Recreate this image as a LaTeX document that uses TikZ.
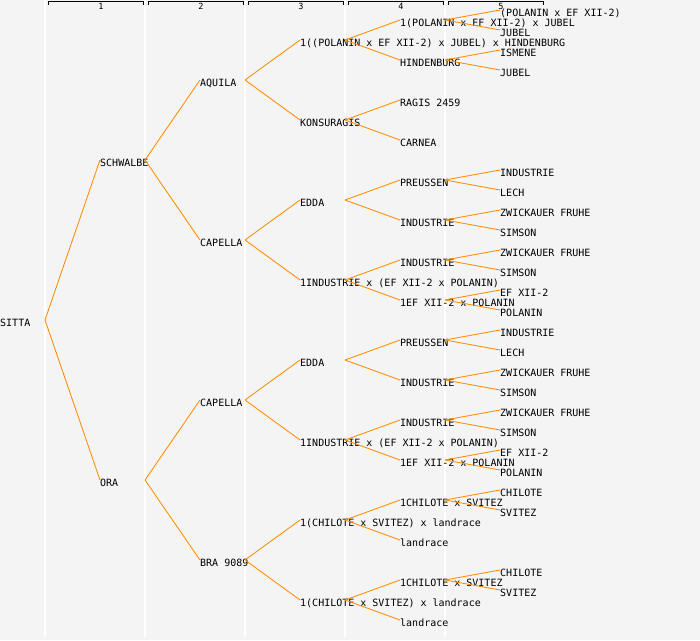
\documentclass[tikz,border=0pt]{standalone}
\usepackage{fontspec}
\newfontfamily\monofam{DejaVu Sans Mono}
\definecolor{bgc}{HTML}{F4F4F4}
\definecolor{edgec}{HTML}{FF8C00}
\newcommand\tn[4]{%
  \coordinate (#1) at ({100*#2},#3);
  \coordinate (#1o) at ({100*#2+45},#3);
  \node[lbl] (#1t) at ({100*#2},{#3+6}) {#4};}
\newcommand\ed[2]{\draw[edg] (#1o) -- (#2);}
\begin{document}
\begin{tikzpicture}[x=1pt,y=-1pt,
  lbl/.style={anchor=base west,inner sep=0pt,font=\monofam\fontsize{10}{10}\selectfont},
  hdr/.style={anchor=base,inner sep=0pt,font=\monofam\fontsize{8.5}{8.5}\selectfont},
  edg/.style={draw=edgec,line width=0.85pt},
  colline/.style={draw=white,line width=1.5pt},
  brk/.style={draw=black,line width=1pt}]
\fill[bgc] (0,0) rectangle (700,640);
\useasboundingbox (0,0) rectangle (700,640);
% column lines
\foreach \k in {0,...,4} {\draw[colline] ({100*\k+45},0) -- ({100*\k+45},637);}
% header
\foreach \k in {1,...,5} {
  \draw[brk] ({100*\k-52},5) -- ({100*\k-52},1.5) -- ({100*\k+43},1.5) -- ({100*\k+43},5);
  \node[hdr] (h\k) at ({100*\k+1},9.5) {\k};
}
% nodes
\tn{s}{0}{320}{SITTA}
\tn{a1}{1}{160}{SCHWALBE}
\tn{a2}{1}{480}{ORA}
\tn{b1}{2}{80}{AQUILA}
\tn{b2}{2}{240}{CAPELLA}
\tn{b3}{2}{400}{CAPELLA}
\tn{b4}{2}{560}{BRA 9089}
\tn{c1}{3}{40}{1((POLANIN x EF XII-2) x JUBEL) x HINDENBURG}
\tn{c2}{3}{120}{KONSURAGIS}
\tn{c3}{3}{200}{EDDA}
\tn{c4}{3}{280}{1INDUSTRIE x (EF XII-2 x POLANIN)}
\tn{c5}{3}{360}{EDDA}
\tn{c6}{3}{440}{1INDUSTRIE x (EF XII-2 x POLANIN)}
\tn{c7}{3}{520}{1(CHILOTE x SVITEZ) x landrace}
\tn{c8}{3}{600}{1(CHILOTE x SVITEZ) x landrace}
\tn{d1}{4}{20}{1(POLANIN x EF XII-2) x JUBEL}
\tn{d2}{4}{60}{HINDENBURG}
\tn{d3}{4}{100}{RAGIS 2459}
\tn{d4}{4}{140}{CARNEA}
\tn{d5}{4}{180}{PREUSSEN}
\tn{d6}{4}{220}{INDUSTRIE}
\tn{d7}{4}{260}{INDUSTRIE}
\tn{d8}{4}{300}{1EF XII-2 x POLANIN}
\tn{d9}{4}{340}{PREUSSEN}
\tn{d10}{4}{380}{INDUSTRIE}
\tn{d11}{4}{420}{INDUSTRIE}
\tn{d12}{4}{460}{1EF XII-2 x POLANIN}
\tn{d13}{4}{500}{1CHILOTE x SVITEZ}
\tn{d14}{4}{540}{landrace}
\tn{d15}{4}{580}{1CHILOTE x SVITEZ}
\tn{d16}{4}{620}{landrace}
\tn{e1}{5}{10}{(POLANIN x EF XII-2)}
\tn{e2}{5}{30}{JUBEL}
\tn{e3}{5}{50}{ISMENE}
\tn{e4}{5}{70}{JUBEL}
\tn{e5}{5}{170}{INDUSTRIE}
\tn{e6}{5}{190}{LECH}
\tn{e7}{5}{210}{ZWICKAUER FRUHE}
\tn{e8}{5}{230}{SIMSON}
\tn{e9}{5}{250}{ZWICKAUER FRUHE}
\tn{e10}{5}{270}{SIMSON}
\tn{e11}{5}{290}{EF XII-2}
\tn{e12}{5}{310}{POLANIN}
\tn{e13}{5}{330}{INDUSTRIE}
\tn{e14}{5}{350}{LECH}
\tn{e15}{5}{370}{ZWICKAUER FRUHE}
\tn{e16}{5}{390}{SIMSON}
\tn{e17}{5}{410}{ZWICKAUER FRUHE}
\tn{e18}{5}{430}{SIMSON}
\tn{e19}{5}{450}{EF XII-2}
\tn{e20}{5}{470}{POLANIN}
\tn{e21}{5}{490}{CHILOTE}
\tn{e22}{5}{510}{SVITEZ}
\tn{e23}{5}{570}{CHILOTE}
\tn{e24}{5}{590}{SVITEZ}
% edges
\ed{s}{a1}\ed{s}{a2}
\ed{a1}{b1}\ed{a1}{b2}\ed{a2}{b3}\ed{a2}{b4}
\ed{b1}{c1}\ed{b1}{c2}\ed{b2}{c3}\ed{b2}{c4}
\ed{b3}{c5}\ed{b3}{c6}\ed{b4}{c7}\ed{b4}{c8}
\ed{c1}{d1}\ed{c1}{d2}\ed{c2}{d3}\ed{c2}{d4}
\ed{c3}{d5}\ed{c3}{d6}\ed{c4}{d7}\ed{c4}{d8}
\ed{c5}{d9}\ed{c5}{d10}\ed{c6}{d11}\ed{c6}{d12}
\ed{c7}{d13}\ed{c7}{d14}\ed{c8}{d15}\ed{c8}{d16}
\ed{d1}{e1}\ed{d1}{e2}\ed{d2}{e3}\ed{d2}{e4}
\ed{d5}{e5}\ed{d5}{e6}\ed{d6}{e7}\ed{d6}{e8}
\ed{d7}{e9}\ed{d7}{e10}\ed{d8}{e11}\ed{d8}{e12}
\ed{d9}{e13}\ed{d9}{e14}\ed{d10}{e15}\ed{d10}{e16}
\ed{d11}{e17}\ed{d11}{e18}\ed{d12}{e19}\ed{d12}{e20}
\ed{d13}{e21}\ed{d13}{e22}\ed{d15}{e23}\ed{d15}{e24}
\end{tikzpicture}
\end{document}
